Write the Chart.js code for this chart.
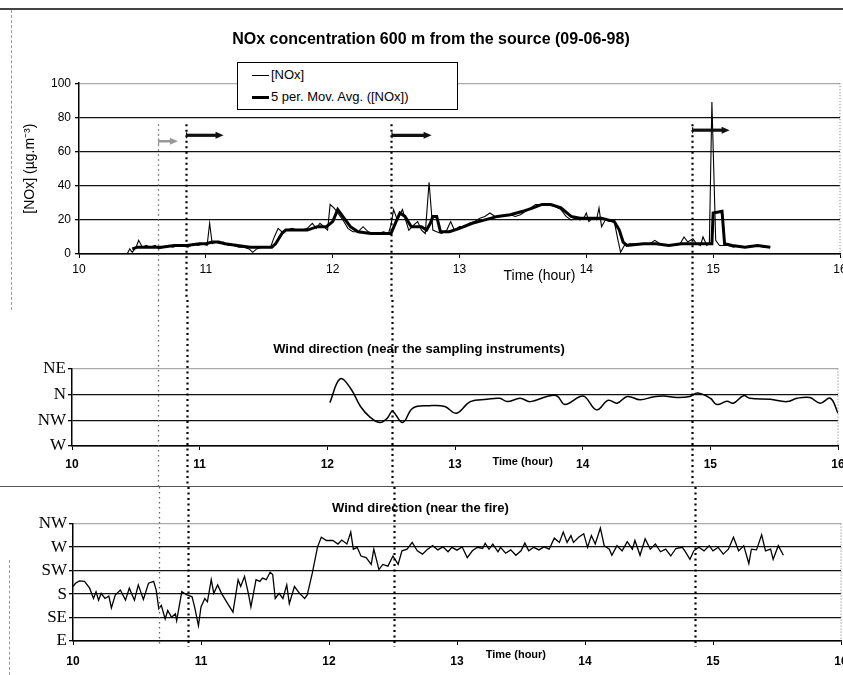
<!DOCTYPE html>
<html>
<head>
<meta charset="utf-8">
<script src="https://cdn.jsdelivr.net/npm/chart.js@4.4.1/dist/chart.umd.min.js"></script>
<style>
  html, body { margin: 0; padding: 0; background: #fff; overflow: hidden; }
  body { width: 843px; height: 675px; position: relative; font-family: "Liberation Sans", Arial, sans-serif; }
  .panel { position: absolute; left: 0; width: 860px; }
  #p1 { top: 0; height: 300px; }
  #p2 { top: 300px; height: 187px; }
  #p3 { top: 487px; height: 188px; }
  .rule { position: absolute; }
  #legend { position: absolute; left: 237px; top: 62px; width: 219px; height: 46px; border: 1px solid #000; background: #fff; font-size: 13px; color: #000; }
  #legend .row { position: absolute; left: 14px; height: 18px; line-height: 18px; white-space: nowrap; }
  #legend .swatch { display: inline-block; width: 17px; vertical-align: middle; margin-right: 2px; background: #000; }
</style>
</head>
<body>
<div class="rule" style="left:0;top:8px;width:843px;border-top:2px solid #444;"></div>
<div class="rule" style="left:11px;top:10px;height:300px;border-left:1px dashed #999;"></div>
<div class="rule" style="left:0;top:486px;width:843px;border-top:1px solid #555;"></div>
<div class="rule" style="left:9px;top:560px;height:115px;border-left:1px dashed #999;"></div>
<div class="panel" id="p1"><canvas id="noxChart" width="860" height="300"></canvas></div>
<div class="panel" id="p2"><canvas id="nearChart" width="860" height="187"></canvas></div>
<div class="panel" id="p3"><canvas id="fireChart" width="860" height="188"></canvas></div>
<div id="legend"></div>
<script>
// NOx concentration 600 m from the source, 09-06-98
const noxTime = [10.38, 10.40, 10.42, 10.45, 10.47, 10.50, 10.53, 10.56, 10.60, 10.63, 10.66, 10.70, 10.74, 10.78, 10.82, 10.86, 10.90, 10.94, 10.98, 11.01,
  11.03, 11.05, 11.08, 11.11, 11.14, 11.18, 11.22, 11.26, 11.30, 11.34, 11.37, 11.40, 11.44, 11.48, 11.51, 11.54, 11.57, 11.60, 11.64, 11.68,
  11.72, 11.76, 11.80, 11.84, 11.87, 11.90, 11.93, 11.96, 11.98, 12.01, 12.04, 12.08, 12.12, 12.16, 12.20, 12.24, 12.28, 12.32, 12.36, 12.40,
  12.44, 12.46, 12.48, 12.51, 12.55, 12.60, 12.64, 12.67, 12.70, 12.73, 12.76, 12.79, 12.82, 12.86, 12.90, 12.93, 12.96, 13.00, 13.04, 13.08,
  13.12, 13.16, 13.20, 13.24, 13.28, 13.32, 13.36, 13.40, 13.44, 13.48, 13.52, 13.56, 13.60, 13.65, 13.70, 13.75, 13.80, 13.84, 13.88, 13.92,
  13.95, 13.98, 14.00, 14.02, 14.05, 14.08, 14.10, 14.12, 14.15, 14.18, 14.22, 14.25, 14.27, 14.30, 14.34, 14.38, 14.42, 14.46, 14.50, 14.54,
  14.58, 14.62, 14.66, 14.70, 14.74, 14.77, 14.80, 14.84, 14.87, 14.90, 14.92, 14.95, 14.97, 14.99, 15.02, 15.05, 15.08, 15.12, 15.16, 15.20,
  15.25, 15.30, 15.35, 15.40, 15.45];
const noxValue = [0, 3, 1, 4, 8, 4, 5, 4, 5, 3, 4, 5, 4, 5, 5, 4, 6, 5, 6, 5,
  18, 6, 7, 6, 7, 5, 5, 4, 4, 3, 1, 3, 4, 4, 4, 10, 15, 13, 14, 15,
  14, 14, 15, 18, 15, 18, 16, 14, 29, 27, 24, 20, 15, 13, 13, 16, 13, 12, 12, 13,
  12, 17, 26, 20, 26, 14, 17, 19, 14, 12, 42, 14, 13, 12, 14, 19, 14, 16, 16, 18,
  19, 21, 22, 24, 22, 22, 23, 23, 22, 23, 25, 27, 29, 29, 29, 28, 26, 22, 20, 21,
  20, 21, 24, 19, 21, 20, 27, 16, 20, 19, 19, 8, 1, 5, 6, 6, 6, 6, 6, 8,
  6, 5, 5, 5, 6, 10, 7, 9, 6, 5, 10, 5, 6, 89, 8, 5, 5, 5, 4, 5,
  4, 5, 5, 4, 4];
const avgTime = [10.42, 10.46, 10.55, 10.65, 10.75, 10.85, 10.95, 11.00, 11.05, 11.10, 11.15, 11.25, 11.35, 11.45, 11.52, 11.55, 11.60, 11.63, 11.70, 11.80,
  11.88, 11.95, 12.00, 12.04, 12.10, 12.14, 12.20, 12.30, 12.40, 12.46, 12.50, 12.53, 12.57, 12.62, 12.70, 12.74, 12.77, 12.79, 12.82, 12.85,
  12.92, 13.00, 13.10, 13.20, 13.30, 13.40, 13.50, 13.58, 13.65, 13.72, 13.80, 13.88, 13.95, 14.05, 14.12, 14.17, 14.22, 14.26, 14.29, 14.32,
  14.45, 14.55, 14.65, 14.75, 14.85, 14.95, 14.99, 15.00, 15.07, 15.09, 15.15, 15.25, 15.35, 15.45];
const avgValue = [3, 4, 4, 4, 5, 5, 6, 6, 7, 7, 6, 5, 4, 4, 4, 6, 12, 14, 14, 14,
  16, 16, 19, 26, 20, 16, 13, 12, 12, 12, 19, 24, 22, 16, 16, 14, 18, 22, 22, 13,
  13, 15, 18, 20, 22, 23, 25, 27, 29, 29, 27, 22, 21, 21, 21, 20, 19, 14, 7, 5,
  6, 6, 5, 6, 6, 6, 6, 24, 25, 6, 5, 4, 5, 4];
const noxLabels = ["[NOx]", "5 per. Mov. Avg. ([NOx])"];

// wind direction near the sampling instruments
const nearDirections = ["W", "NW", "N", "NE"];
const nearTime = [12.02, 12.10, 12.18, 12.26, 12.33, 12.41, 12.47, 12.51, 12.59, 12.67, 12.80, 12.92, 13.01, 13.12, 13.25, 13.35, 13.41, 13.51, 13.59, 13.72,
  13.80, 13.86, 13.98, 14.02, 14.11, 14.20, 14.27, 14.35, 14.45, 14.55, 14.63, 14.74, 14.84, 14.90, 15.00, 15.05, 15.13, 15.18, 15.26, 15.31,
  15.47, 15.60, 15.68, 15.78, 15.86, 15.94, 16.00];
const nearWind = [1.68, 2.60, 2.25, 1.53, 1.14, 0.91, 1.08, 1.34, 0.91, 1.47, 1.56, 1.53, 1.27, 1.72, 1.81, 1.85, 1.72, 1.85, 1.72, 1.92,
  1.94, 1.61, 1.92, 1.90, 1.40, 1.77, 1.66, 1.92, 1.79, 1.90, 1.94, 1.88, 1.92, 2.05, 1.85, 1.61, 1.73, 1.66, 1.95, 1.85,
  1.81, 1.72, 1.85, 1.88, 1.66, 1.85, 1.27];

// wind direction near the fire
const fireDirections = ["E", "SE", "S", "SW", "W", "NW"];
const fireTime = [10.00, 10.02, 10.05, 10.09, 10.13, 10.16, 10.18, 10.20, 10.22, 10.25, 10.28, 10.30, 10.33, 10.37, 10.41, 10.44, 10.48, 10.51, 10.55, 10.59,
  10.63, 10.65, 10.67, 10.69, 10.72, 10.74, 10.77, 10.80, 10.81, 10.85, 10.89, 10.93, 10.95, 10.98, 11.00, 11.03, 11.05, 11.08, 11.10, 11.13,
  11.16, 11.20, 11.25, 11.29, 11.31, 11.34, 11.37, 11.39, 11.43, 11.46, 11.48, 11.51, 11.54, 11.56, 11.58, 11.61, 11.64, 11.67, 11.69, 11.73,
  11.77, 11.81, 11.83, 11.87, 11.91, 11.94, 11.98, 12.03, 12.07, 12.10, 12.14, 12.17, 12.19, 12.22, 12.25, 12.29, 12.33, 12.35, 12.39, 12.42,
  12.46, 12.50, 12.54, 12.57, 12.61, 12.65, 12.69, 12.73, 12.77, 12.81, 12.85, 12.89, 12.93, 12.96, 13.00, 13.04, 13.08, 13.12, 13.16, 13.20,
  13.22, 13.25, 13.28, 13.32, 13.34, 13.38, 13.42, 13.46, 13.50, 13.53, 13.56, 13.60, 13.64, 13.68, 13.72, 13.76, 13.80, 13.83, 13.86, 13.89,
  13.91, 13.95, 13.99, 14.02, 14.05, 14.08, 14.12, 14.15, 14.19, 14.21, 14.25, 14.29, 14.33, 14.37, 14.39, 14.43, 14.47, 14.51, 14.55, 14.59,
  14.63, 14.67, 14.71, 14.76, 14.78, 14.82, 14.85, 14.89, 14.93, 14.97, 15.00, 15.04, 15.08, 15.12, 15.16, 15.20, 15.24, 15.28, 15.30, 15.34,
  15.38, 15.41, 15.45, 15.47, 15.51, 15.55];
const fireWind = [2.32, 2.46, 2.56, 2.54, 2.25, 1.81, 2.10, 1.74, 2.03, 1.81, 1.91, 1.41, 1.96, 2.17, 1.74, 2.25, 1.74, 2.39, 1.77, 2.46,
  2.54, 2.17, 1.38, 1.52, 0.94, 1.30, 1.01, 1.16, 0.87, 2.10, 1.96, 1.88, 1.45, 0.65, 1.45, 1.81, 1.67, 2.61, 2.03, 2.39,
  2.03, 1.67, 1.23, 2.61, 2.32, 2.75, 2.03, 1.45, 2.61, 2.54, 2.68, 2.61, 2.93, 2.83, 1.81, 2.03, 1.81, 2.39, 1.59, 2.32,
  2.03, 1.81, 1.96, 2.90, 4.00, 4.42, 4.28, 4.28, 4.13, 4.30, 4.13, 4.64, 3.91, 3.99, 3.62, 3.55, 3.26, 3.91, 3.04, 3.26,
  3.19, 3.62, 3.26, 3.84, 3.91, 4.20, 3.84, 3.70, 3.91, 4.06, 3.88, 4.01, 3.80, 3.99, 3.87, 4.01, 3.55, 3.84, 3.99, 3.94,
  4.16, 3.91, 4.13, 3.80, 3.99, 3.74, 3.88, 3.65, 3.84, 4.17, 3.84, 3.99, 3.88, 4.01, 3.91, 4.38, 4.20, 4.64, 4.20, 4.49,
  4.20, 4.42, 4.57, 3.99, 4.49, 4.13, 4.81, 4.06, 3.91, 3.65, 4.06, 3.84, 4.23, 3.91, 4.28, 3.65, 4.35, 3.91, 4.13, 3.80,
  3.91, 3.62, 3.94, 3.99, 3.84, 3.48, 3.84, 3.99, 3.84, 4.06, 3.84, 3.99, 3.70, 3.91, 4.42, 3.84, 4.06, 3.30, 3.91, 3.88,
  4.52, 3.84, 3.91, 3.48, 4.06, 3.65];

// moments marked with dotted lines, as read on the NOx axis and on the wind axes
const eventTimeNox = [10.62, 10.84, 12.46, 14.83];
const eventTimeWind = [10.67, 10.90, 12.51, 14.86];
// arrows above the NOx curve (hour where the arrow ends, NOx level of the arrow)
const arrowEnd = [10.78, 11.14, 12.78, 15.13];
const arrowLevel = [66, 69.5, 69.5, 72.5];

const sans = "'Liberation Sans', Arial, sans-serif";
const serif = "'Liberation Serif', 'Times New Roman', serif";

function pairs(xs, ys) {
  return xs.map((x, i) => ({ x: x, y: ys[i] }));
}

// dotted event lines, dotted right frame, arrows, "Time (hour)" label
const framePlugin = {
  id: "frame",
  afterDatasetsDraw(chart, args, opts) {
    const ctx = chart.ctx;
    const xs = chart.scales.x;
    const ys = chart.scales.y;
    const area = chart.chartArea;
    ctx.save();
    ctx.strokeStyle = "#777";
    ctx.lineWidth = 1;
    ctx.setLineDash([1, 2]);
    ctx.beginPath();
    ctx.moveTo(area.right, area.top);
    ctx.lineTo(area.right, area.bottom);
    ctx.stroke();

    const top = opts.fromValue != null ? ys.getPixelForValue(opts.fromValue) : 0;
    const bottom = opts.toEnd ? chart.height : area.bottom + 6;
    opts.events.forEach((t, i) => {
      const px = Math.round(xs.getPixelForValue(t)) + 0.5;
      ctx.beginPath();
      ctx.strokeStyle = i === 0 ? "#666" : "#000";
      ctx.lineWidth = i === 0 ? 1.3 : 2.2;
      ctx.setLineDash(i === 0 ? [1.5, 3.5] : [2, 3.5]);
      ctx.moveTo(px, top);
      ctx.lineTo(px, bottom);
      ctx.stroke();
    });
    ctx.setLineDash([]);

    if (opts.arrows) {
      opts.events.forEach((t, i) => {
        const x0 = xs.getPixelForValue(t);
        const x1 = xs.getPixelForValue(arrowEnd[i]);
        const py = ys.getPixelForValue(arrowLevel[i]);
        const col = i === 0 ? "#999" : "#111";
        ctx.strokeStyle = col;
        ctx.fillStyle = col;
        ctx.lineWidth = i === 0 ? 2.5 : 3.2;
        ctx.beginPath();
        ctx.moveTo(x0 + 1, py);
        ctx.lineTo(x1 - 6, py);
        ctx.stroke();
        ctx.lineWidth = 1.2;
        ctx.beginPath();
        ctx.moveTo(x0 + 1, py - 3);
        ctx.lineTo(x0 + 1, py + 3);
        ctx.stroke();
        ctx.beginPath();
        ctx.moveTo(x1, py);
        ctx.lineTo(x1 - 8, py - 3.5);
        ctx.lineTo(x1 - 8, py + 3.5);
        ctx.closePath();
        ctx.fill();
      });
    }

    ctx.fillStyle = "#000";
    ctx.font = opts.labelFont;
    ctx.textAlign = "center";
    ctx.textBaseline = "middle";
    ctx.fillText("Time (hour)", xs.getPixelForValue(opts.labelAt), area.bottom + opts.labelDy);
    ctx.restore();
  }
};

function gridColor(max) {
  return (c) => (c.tick && c.tick.value === max ? "#aaa" : "#111");
}

function xAxis(height, pad, font) {
  return {
    type: "linear",
    min: 10,
    max: 16,
    afterFit: (s) => { s.height = height; },
    ticks: { stepSize: 1, padding: pad, color: "#000", font: font, maxRotation: 0 },
    grid: { drawOnChartArea: false, drawTicks: true, tickLength: 4, color: "#000" },
    border: { display: true, color: "#000", width: 1.5 }
  };
}

const noxChart = new Chart(document.getElementById("noxChart"), {
  type: "line",
  data: {
    datasets: [
      { label: noxLabels[0], data: pairs(noxTime, noxValue), borderColor: "#000", borderWidth: 1.1, pointRadius: 0, tension: 0 },
      { label: noxLabels[1], data: pairs(avgTime, avgValue), borderColor: "#000", borderWidth: 3, pointRadius: 0, tension: 0 }
    ]
  },
  options: {
    responsive: false,
    animation: false,
    layout: { padding: { left: 22, right: 20, top: 0, bottom: 0 } },
    plugins: {
      legend: { display: false },
      tooltip: { enabled: false },
      title: {
        display: true,
        text: "NOx concentration 600 m from the source (09-06-98)",
        color: "#000",
        font: { family: sans, size: 16, weight: "bold" },
        padding: { top: 30, bottom: 34 }
      },
      frame: { events: eventTimeNox, fromValue: 76, toEnd: true, arrows: true, labelAt: 13.63, labelDy: 22, labelFont: "14px " + sans }
    },
    scales: {
      x: xAxis(46, 4, { family: sans, size: 12 }),
      y: {
        min: 0,
        max: 100,
        afterFit: (s) => { s.width = 57; },
        ticks: { stepSize: 20, padding: 4, color: "#000", font: { family: sans, size: 12 } },
        grid: { color: gridColor(100), lineWidth: 1.3, tickLength: 4, tickColor: "#000" },
        border: { display: true, color: "#000", width: 1.5 },
        title: { display: true, text: "[NOx] (\u00B5g.m\u207B\u00B3)", color: "#000", font: { family: sans, size: 14 }, padding: { top: 0, bottom: 4 } }
      }
    }
  },
  plugins: [framePlugin]
});

function windChart(id, title, times, values, dirs, opts) {
  return new Chart(document.getElementById(id), {
    type: "line",
    data: {
      datasets: [{ label: title, data: pairs(times, values), borderColor: "#000", borderWidth: opts.width, pointRadius: 0, tension: opts.tension }]
    },
    options: {
      responsive: false,
      animation: false,
      layout: { padding: { left: 0, right: opts.right, top: 0, bottom: 0 } },
      plugins: {
        legend: { display: false },
        tooltip: { enabled: false },
        title: {
          display: true,
          text: title,
          color: "#000",
          font: { family: sans, size: 13, weight: "bold" },
          padding: opts.titlePad
        },
        frame: { events: eventTimeWind, fromValue: null, toEnd: opts.toEnd, arrows: false, labelAt: opts.labelAt, labelDy: opts.labelDy, labelFont: "bold 11px " + sans }
      },
      scales: {
        x: xAxis(opts.xHeight, opts.xPad, { family: sans, size: 12, weight: "bold" }),
        y: {
          min: 0,
          max: dirs.length - 1,
          afterFit: (s) => { s.width = opts.left; },
          ticks: { stepSize: 1, padding: 2, color: "#000", font: { family: serif, size: 17 }, callback: (v) => dirs[v] },
          grid: { color: gridColor(dirs.length - 1), lineWidth: 1.3, tickLength: 4, tickColor: "#000" },
          border: { display: true, color: "#000", width: 1.5 }
        }
      }
    },
    plugins: [framePlugin]
  });
}

windChart("nearChart", "Wind direction (near the sampling instruments)", nearTime, nearWind, nearDirections, {
  width: 1.5, tension: 0.4, right: 22, left: 72, titlePad: { top: 42, bottom: 11 }, xHeight: 41, xPad: 7,
  toEnd: true, labelAt: 13.53, labelDy: 16
});
windChart("fireChart", "Wind direction (near the fire)", fireTime, fireWind, fireDirections, {
  width: 1.3, tension: 0, right: 19, left: 73, titlePad: { top: 14, bottom: 7 }, xHeight: 34, xPad: 9,
  toEnd: false, labelAt: 13.46, labelDy: 14
});

// legend box built from the NOx datasets
const legend = document.getElementById("legend");
noxChart.data.datasets.forEach((ds, i) => {
  const row = document.createElement("div");
  row.className = "row";
  row.style.top = (i === 0 ? 3 : 25) + "px";
  const sw = document.createElement("span");
  sw.className = "swatch";
  sw.style.height = ds.borderWidth > 2 ? "3px" : "1px";
  row.appendChild(sw);
  row.appendChild(document.createTextNode(ds.label));
  legend.appendChild(row);
});
</script>
</body>
</html>
